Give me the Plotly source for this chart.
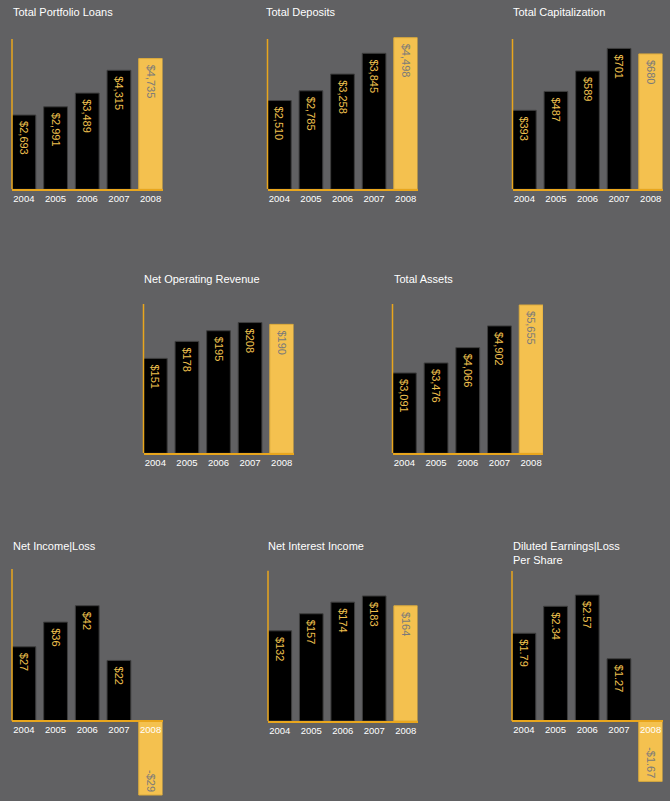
import plotly.graph_objects as go

W, H = 670, 801

years = ["2004", "2005", "2006", "2007", "2008"]

titles = [
    "Total Portfolio Loans",
    "Total Deposits",
    "Total Capitalization",
    "Net Operating Revenue",
    "Total Assets",
    "Net Income|Loss",
    "Net Interest Income",
    "Diluted Earnings|Loss<br>Per Share",
]

total_portfolio_loans = [2693, 2991, 3489, 4315, 4735]
total_deposits = [2510, 2785, 3258, 3845, 4498]
total_capitalization = [393, 487, 589, 701, 680]
net_operating_revenue = [151, 178, 195, 208, 190]
total_assets = [3091, 3476, 4066, 4902, 5655]
net_income_loss = [27, 36, 42, 22, -29]
net_interest_income = [132, 157, 174, 183, 164]
diluted_eps = [1.79, 2.34, 2.57, 1.27, -1.67]

series = [total_portfolio_loans, total_deposits, total_capitalization,
          net_operating_revenue, total_assets, net_income_loss,
          net_interest_income, diluted_eps]
decimals = [0, 0, 0, 0, 0, 0, 0, 2]

# layout (pixels): x0, x1, axis-line top, zero, bottom, value at axis top (2004-07), (2008), title x, title cap-top
panels = [
    dict(x0=12, x1=162.5, top=39, zero=189.3, bottom=189.3, ym=5450, yl=5445, tx=12, ty=8.3),
    dict(x0=267.5, x1=417.5, top=39, zero=189.3, bottom=189.3, ym=4250, yl=4459, tx=265, ty=8.3),
    dict(x0=512.5, x1=662.5, top=39, zero=189.3, bottom=189.3, ym=748, yl=755, tx=512.3, ty=8.3),
    dict(x0=143.5, x1=293.5, top=304, zero=453.3, bottom=453.3, ym=237.5, yl=220, tx=143.3, ty=275),
    dict(x0=392.5, x1=543, top=304, zero=453.3, bottom=453.3, ym=5745, yl=5693, tx=392.7, ty=275),
    dict(x0=12, x1=162.5, top=569, zero=720.7, bottom=800, ym=55.4, yl=59.2, tx=12, ty=541.7),
    dict(x0=268, x1=417.5, top=570.7, zero=721, bottom=721, ym=220, yl=214, tx=267.3, ty=541.7),
    dict(x0=512, x1=662.5, top=571, zero=721, bottom=800, ym=3.06, yl=4.15, tx=512, ty=541.7),
]
HEADROOM = 8  # px of plot area above the axis line

BG = "#616163"
YEL = "#f4c14f"
AXC = "#e9a61d"
TXT_Y = "#f0c04e"
TXT_G = "#7a7a7a"
FONT = "Liberation Sans, Arial, sans-serif"


def fmt(v, dec):
    s = f"${abs(v):,.{dec}f}"
    return "-" + s if v < 0 else s


fig = go.Figure()
layout = {}
shapes = []
annotations = []

for i, p in enumerate(panels):
    n = i + 1
    m = i + 9
    xs = "x" if n == 1 else f"x{n}"
    ys = "y" if n == 1 else f"y{n}"
    ys2 = f"y{m}"
    vals = series[i]
    dec = decimals[i]
    labels = [fmt(v, dec) for v in vals]
    shown = ["\u00a0" + t for t in labels]

    dom_top = p["top"] - HEADROOM
    span = p["zero"] - p["top"]
    s_main = p["ym"] / span
    s_last = p["yl"] / span
    rng_main = [-(p["bottom"] - p["zero"]) * s_main, (p["zero"] - dom_top) * s_main]
    rng_last = [-(p["bottom"] - p["zero"]) * s_last, (p["zero"] - dom_top) * s_last]
    ydom = [1 - p["bottom"] / H, 1 - dom_top / H]
    has_neg = p["bottom"] > p["zero"]

    xa = dict(domain=[p["x0"] / W, p["x1"] / W], type="category",
              categoryorder="array", categoryarray=years,
              range=[-0.375, 4.375], showline=True, linecolor=AXC, linewidth=1.5,
              ticks="", showgrid=False, zeroline=False, fixedrange=True,
              tickfont=dict(family=FONT, size=9.5, color="#ffffff"))
    if has_neg:
        xa.update(anchor="free", position=1 - p["zero"] / H)
    else:
        xa.update(anchor=ys)
    ya = dict(domain=ydom, range=rng_main, anchor=xs, showline=False,
              showticklabels=False, ticks="", showgrid=False, zeroline=False,
              fixedrange=True)
    ya2 = dict(overlaying=ys, anchor=xs, range=rng_last,
               visible=False, showgrid=False, zeroline=False, fixedrange=True)

    layout["xaxis" if n == 1 else f"xaxis{n}"] = xa
    layout["yaxis" if n == 1 else f"yaxis{n}"] = ya
    layout[f"yaxis{m}"] = ya2

    shapes.append(dict(type="line", xref=f"{xs} domain", yref=ys,
                       x0=0, x1=0, y0=0, y1=p["ym"],
                       line=dict(color=AXC, width=1.5), layer="above"))

    common = dict(width=0.75, offset=-0.375, textposition="inside",
                  insidetextanchor="end", textangle=90, showlegend=False,
                  hoverinfo="skip", cliponaxis=False)
    fig.add_trace(go.Bar(x=years[:4], y=vals[:4], text=shown[:4],
                         xaxis=xs, yaxis=ys,
                         marker=dict(color="#000000", line=dict(color="#3e3e3e", width=1)),
                         textfont=dict(family=FONT, size=11, color=TXT_Y),
                         **common))
    fig.add_trace(go.Bar(x=years[4:], y=vals[4:], text=shown[4:],
                         xaxis=xs, yaxis=ys2,
                         marker=dict(color=YEL, line=dict(color="#dcab3c", width=1)),
                         textfont=dict(family=FONT, size=11, color=TXT_G),
                         **common))

    annotations.append(dict(text=titles[i], xref="paper", yref="paper",
                            x=(p["tx"] - 1) / W, y=1 - (p["ty"] - 4) / H,
                            xanchor="left", yanchor="top", align="left",
                            showarrow=False,
                            font=dict(family=FONT, size=11, color="#ffffff")))

fig.update_layout(
    width=W, height=H,
    margin=dict(l=0, r=0, t=0, b=0),
    paper_bgcolor=BG, plot_bgcolor=BG,
    barmode="overlay",
    showlegend=False,
    shapes=shapes,
    annotations=annotations,
    **layout,
)

fig.write_html("out.html", config={"displayModeBar": False},
               post_script="document.body.style.margin='0';document.body.style.background='" + BG + "';")
